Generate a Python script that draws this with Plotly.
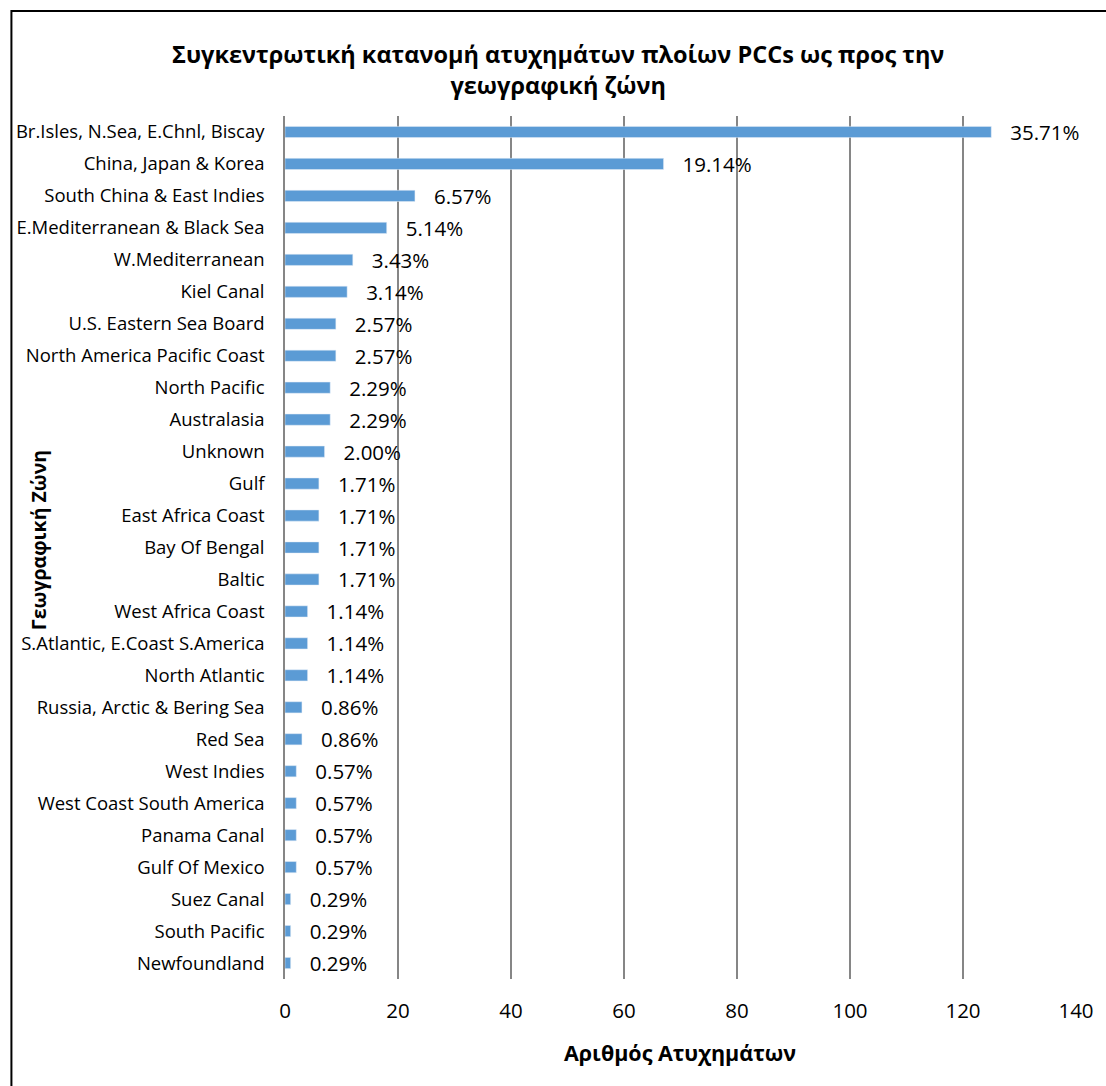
import plotly.graph_objects as go

categories = [
    "Br.Isles, N.Sea, E.Chnl, Biscay", "China, Japan & Korea", "South China & East Indies",
    "E.Mediterranean & Black Sea", "W.Mediterranean", "Kiel Canal", "U.S. Eastern Sea Board",
    "North America Pacific Coast", "North Pacific", "Australasia", "Unknown", "Gulf",
    "East Africa Coast", "Bay Of Bengal", "Baltic", "West Africa Coast",
    "S.Atlantic, E.Coast S.America", "North Atlantic", "Russia, Arctic & Bering Sea", "Red Sea",
    "West Indies", "West Coast South America", "Panama Canal", "Gulf Of Mexico", "Suez Canal",
    "South Pacific", "Newfoundland",
]
counts = [125, 67, 23, 18, 12, 11, 9, 9, 8, 8, 7, 6, 6, 6, 6, 4, 4, 4, 3, 3, 2, 2, 2, 2, 1, 1, 1]
percent_labels = ["35.71%", "19.14%", "6.57%", "5.14%", "3.43%", "3.14%", "2.57%", "2.57%",
                  "2.29%", "2.29%", "2.00%", "1.71%", "1.71%", "1.71%", "1.71%", "1.14%",
                  "1.14%", "1.14%", "0.86%", "0.86%", "0.57%", "0.57%", "0.57%", "0.57%",
                  "0.29%", "0.29%", "0.29%"]
x_ticks = [0, 20, 40, 60, 80, 100, 120, 140]

FONT = "Open Sans"
W, H = 1106, 1086
L, R, T, B = 285, 23, 116, 107
PW, PH = W - L - R, H - T - B

def px(x):
    return (x - L) / PW

def py(y):
    return (H - B - y) / PH

fig = go.Figure(go.Bar(
    x=counts, y=categories, orientation="h",
    marker=dict(color="#5B9BD5"),
    text=["\u00a0\u00a0\u00a0" + t for t in percent_labels],
    textposition="outside", constraintext="none", cliponaxis=False,
    textfont=dict(family=FONT, size=20.5, color="#000000"),
    hoverinfo="skip",
))

fig.update_layout(
    width=W, height=H,
    margin=dict(l=L, r=R, t=T, b=B),
    paper_bgcolor="white", plot_bgcolor="white",
    bargap=0.65, showlegend=False,
    font=dict(family=FONT, color="#000000"),
    xaxis=dict(range=[0, 140], tickvals=x_ticks, showgrid=True, gridcolor="#868686",
               gridwidth=1.5, zeroline=False, showline=False, ticks="",
               tickfont=dict(family=FONT, size=20.5, color="#000000"), ticklabelstandoff=17),
    yaxis=dict(autorange="reversed", showgrid=False, showline=True, linecolor="#868686",
               linewidth=1.5, ticks="", zeroline=False,
               tickfont=dict(family=FONT, size=18.5, color="#000000"), ticklabelstandoff=15),
    shapes=[dict(type="rect", xref="paper", yref="paper",
                 x0=px(9), x1=px(1130), y0=py(1110), y1=py(11),
                 line=dict(color="black", width=2), fillcolor="rgba(0,0,0,0)", layer="below")],
    annotations=[
        dict(text="<b>Συγκεντρωτική κατανομή ατυχημάτων πλοίων PCCs ως προς την<br>γεωγραφική ζώνη</b>",
             xref="paper", yref="paper", x=px(560), y=py(69), xanchor="center", yanchor="middle",
             showarrow=False, font=dict(family=FONT, size=23.5, color="#000000"), align="center"),
        dict(text="<b>Αριθμός Ατυχημάτων</b>", xref="paper", yref="paper",
             x=px(683), y=py(1052), xanchor="center", yanchor="middle",
             showarrow=False, font=dict(family=FONT, size=21.5, color="#000000")),
        dict(text="<b>Γεωγραφική Ζώνη</b>", xref="paper", yref="paper",
             x=px(36), y=py(540), xanchor="center", yanchor="middle", textangle=-90,
             showarrow=False, font=dict(family=FONT, size=19.5, color="#000000")),
    ],
)

fig.write_html("out.html")
